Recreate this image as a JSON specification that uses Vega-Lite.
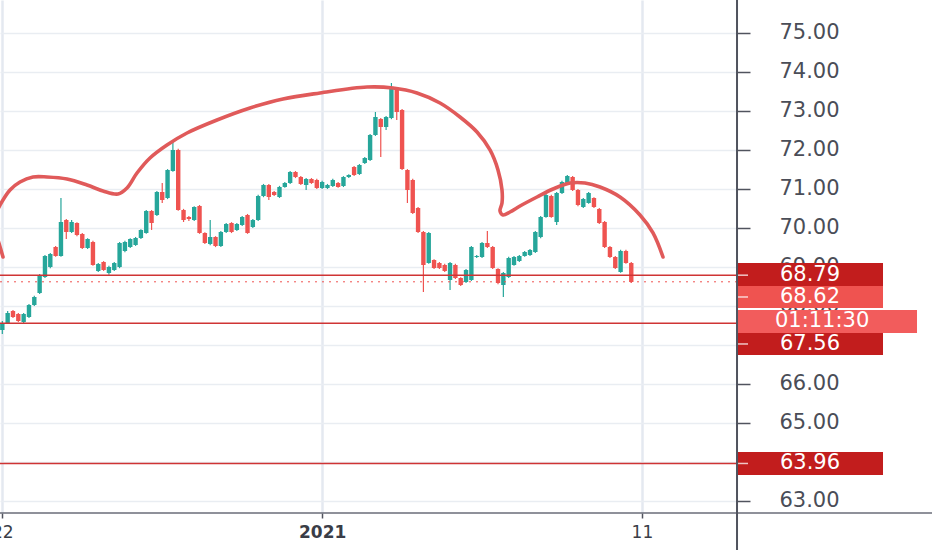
{
  "$schema": "https://vega.github.io/schema/vega-lite/v6.json",
  "width": 737,
  "height": 513,
  "autosize": "none",
  "padding": {"left": 0, "top": 0, "right": 195, "bottom": 37},
  "background": "#ffffff",
  "config": {
    "view": {"stroke": null},
    "font": "DejaVu Sans",
    "scale": {"continuousPadding": 0}
  },
  "datasets": {
    "candles": [
      {"i":1,"o":67.384,"h":67.615,"l":67.282,"c":67.564},
      {"i":2,"o":67.564,"h":67.872,"l":67.54,"c":67.821},
      {"i":3,"o":67.872,"h":67.9,"l":67.69,"c":67.718},
      {"i":4,"o":67.795,"h":67.82,"l":67.59,"c":67.615},
      {"i":5,"o":67.59,"h":67.82,"l":67.54,"c":67.795},
      {"i":6,"o":67.718,"h":68.05,"l":67.69,"c":68.025},
      {"i":7,"o":68.025,"h":68.26,"l":68.0,"c":68.231},
      {"i":8,"o":68.333,"h":68.82,"l":68.31,"c":68.795},
      {"i":9,"o":68.744,"h":69.31,"l":68.72,"c":69.282},
      {"i":10,"o":69.0,"h":69.36,"l":68.97,"c":69.333},
      {"i":11,"o":69.513,"h":69.54,"l":69.26,"c":69.282},
      {"i":12,"o":69.282,"h":70.769,"l":69.26,"c":70.154},
      {"i":13,"o":70.205,"h":70.23,"l":69.718,"c":69.897},
      {"i":14,"o":69.897,"h":70.205,"l":69.87,"c":70.154},
      {"i":15,"o":70.128,"h":70.15,"l":69.79,"c":69.82},
      {"i":16,"o":69.846,"h":69.87,"l":69.46,"c":69.487},
      {"i":17,"o":69.487,"h":69.74,"l":69.46,"c":69.718},
      {"i":18,"o":69.641,"h":69.67,"l":69.03,"c":69.051},
      {"i":19,"o":68.897,"h":69.1,"l":68.87,"c":69.077},
      {"i":20,"o":69.128,"h":69.15,"l":68.9,"c":68.923},
      {"i":21,"o":68.846,"h":69.03,"l":68.8,"c":69.0},
      {"i":22,"o":68.923,"h":69.13,"l":68.9,"c":69.102},
      {"i":23,"o":69.0,"h":69.64,"l":68.97,"c":69.615},
      {"i":24,"o":69.41,"h":69.67,"l":69.38,"c":69.641},
      {"i":25,"o":69.513,"h":69.74,"l":69.49,"c":69.718},
      {"i":26,"o":69.564,"h":69.77,"l":69.54,"c":69.743},
      {"i":27,"o":69.743,"h":69.97,"l":69.72,"c":69.949},
      {"i":28,"o":69.872,"h":70.46,"l":69.85,"c":70.436},
      {"i":29,"o":70.436,"h":70.46,"l":69.95,"c":70.128},
      {"i":30,"o":70.333,"h":70.95,"l":70.31,"c":70.923},
      {"i":31,"o":70.923,"h":71.154,"l":70.641,"c":70.718},
      {"i":32,"o":70.769,"h":71.51,"l":70.74,"c":71.487},
      {"i":33,"o":71.462,"h":72.205,"l":71.44,"c":72.0},
      {"i":34,"o":72.0,"h":72.03,"l":70.44,"c":70.461},
      {"i":35,"o":70.461,"h":70.49,"l":70.154,"c":70.205},
      {"i":36,"o":70.282,"h":70.31,"l":70.18,"c":70.231},
      {"i":37,"o":70.205,"h":70.56,"l":70.18,"c":70.538},
      {"i":38,"o":70.564,"h":70.59,"l":69.85,"c":69.872},
      {"i":39,"o":69.872,"h":69.89,"l":69.59,"c":69.615},
      {"i":40,"o":69.59,"h":70.205,"l":69.56,"c":69.769},
      {"i":41,"o":69.769,"h":69.79,"l":69.51,"c":69.538},
      {"i":42,"o":69.538,"h":69.92,"l":69.51,"c":69.897},
      {"i":43,"o":69.897,"h":70.13,"l":69.87,"c":70.102},
      {"i":44,"o":70.128,"h":70.15,"l":69.87,"c":69.897},
      {"i":45,"o":69.949,"h":70.13,"l":69.92,"c":70.102},
      {"i":46,"o":70.077,"h":70.31,"l":70.05,"c":70.282},
      {"i":47,"o":70.333,"h":70.36,"l":69.85,"c":69.872},
      {"i":48,"o":70.026,"h":70.23,"l":70.0,"c":70.205},
      {"i":49,"o":70.205,"h":70.85,"l":70.18,"c":70.82},
      {"i":50,"o":70.82,"h":71.13,"l":70.79,"c":71.102},
      {"i":51,"o":71.102,"h":71.13,"l":70.718,"c":70.795},
      {"i":52,"o":70.923,"h":70.95,"l":70.82,"c":70.846},
      {"i":53,"o":70.795,"h":71.08,"l":70.77,"c":71.051},
      {"i":54,"o":71.051,"h":71.18,"l":71.03,"c":71.154},
      {"i":55,"o":71.154,"h":71.46,"l":71.13,"c":71.436},
      {"i":56,"o":71.436,"h":71.46,"l":71.28,"c":71.308},
      {"i":57,"o":71.308,"h":71.33,"l":71.1,"c":71.128},
      {"i":58,"o":71.102,"h":71.28,"l":70.974,"c":71.256},
      {"i":59,"o":71.256,"h":71.28,"l":71.13,"c":71.154},
      {"i":60,"o":71.231,"h":71.26,"l":71.0,"c":71.026},
      {"i":61,"o":71.026,"h":71.21,"l":71.0,"c":71.179},
      {"i":62,"o":71.026,"h":71.13,"l":71.0,"c":71.102},
      {"i":63,"o":71.077,"h":71.26,"l":71.05,"c":71.231},
      {"i":64,"o":71.154,"h":71.18,"l":71.03,"c":71.051},
      {"i":65,"o":71.077,"h":71.33,"l":71.05,"c":71.308},
      {"i":66,"o":71.308,"h":71.38,"l":71.28,"c":71.359},
      {"i":67,"o":71.564,"h":71.59,"l":71.33,"c":71.359},
      {"i":68,"o":71.384,"h":71.64,"l":71.36,"c":71.615},
      {"i":69,"o":71.667,"h":71.82,"l":71.64,"c":71.795},
      {"i":70,"o":71.743,"h":72.41,"l":71.72,"c":72.384},
      {"i":71,"o":72.384,"h":72.974,"l":72.36,"c":72.846},
      {"i":72,"o":72.795,"h":72.82,"l":71.82,"c":72.59},
      {"i":73,"o":72.59,"h":72.87,"l":72.51,"c":72.846},
      {"i":74,"o":72.82,"h":73.718,"l":72.79,"c":73.59},
      {"i":75,"o":73.564,"h":73.59,"l":72.769,"c":72.974},
      {"i":76,"o":73.026,"h":73.05,"l":71.49,"c":71.513},
      {"i":77,"o":71.487,"h":71.51,"l":70.641,"c":70.974},
      {"i":78,"o":71.231,"h":71.26,"l":70.36,"c":70.384},
      {"i":79,"o":70.513,"h":70.54,"l":69.87,"c":69.897},
      {"i":80,"o":69.897,"h":69.92,"l":68.359,"c":69.051},
      {"i":81,"o":69.102,"h":69.9,"l":69.08,"c":69.872},
      {"i":82,"o":69.179,"h":69.2,"l":68.95,"c":68.974},
      {"i":83,"o":69.102,"h":69.13,"l":68.95,"c":68.974},
      {"i":84,"o":69.051,"h":69.08,"l":68.87,"c":68.897},
      {"i":85,"o":68.667,"h":69.13,"l":68.41,"c":69.102},
      {"i":86,"o":69.051,"h":69.08,"l":68.69,"c":68.718},
      {"i":87,"o":68.718,"h":68.74,"l":68.51,"c":68.538},
      {"i":88,"o":68.615,"h":68.95,"l":68.59,"c":68.923},
      {"i":89,"o":68.667,"h":69.54,"l":68.64,"c":69.513},
      {"i":90,"o":69.256,"h":69.31,"l":69.23,"c":69.282},
      {"i":91,"o":69.256,"h":69.64,"l":69.23,"c":69.615},
      {"i":92,"o":69.615,"h":69.923,"l":69.49,"c":69.513},
      {"i":93,"o":69.513,"h":69.54,"l":68.95,"c":68.974},
      {"i":94,"o":68.949,"h":68.97,"l":68.56,"c":68.59},
      {"i":95,"o":68.538,"h":68.87,"l":68.231,"c":68.846},
      {"i":96,"o":68.744,"h":69.26,"l":68.72,"c":69.231},
      {"i":97,"o":69.051,"h":69.28,"l":69.03,"c":69.256},
      {"i":98,"o":69.154,"h":69.31,"l":69.13,"c":69.282},
      {"i":99,"o":69.282,"h":69.41,"l":69.26,"c":69.384},
      {"i":100,"o":69.308,"h":69.46,"l":69.28,"c":69.436},
      {"i":101,"o":69.384,"h":69.92,"l":69.36,"c":69.897},
      {"i":102,"o":69.769,"h":70.31,"l":69.74,"c":70.282},
      {"i":103,"o":70.282,"h":70.95,"l":70.26,"c":70.846},
      {"i":104,"o":70.82,"h":70.85,"l":70.26,"c":70.282},
      {"i":105,"o":70.154,"h":70.92,"l":70.077,"c":70.897},
      {"i":106,"o":70.897,"h":71.21,"l":70.87,"c":71.179},
      {"i":107,"o":71.154,"h":71.36,"l":71.13,"c":71.333},
      {"i":108,"o":71.308,"h":71.33,"l":70.95,"c":70.974},
      {"i":109,"o":70.974,"h":71.0,"l":70.56,"c":70.59},
      {"i":110,"o":70.538,"h":70.77,"l":70.51,"c":70.744},
      {"i":111,"o":70.641,"h":70.92,"l":70.62,"c":70.897},
      {"i":112,"o":70.769,"h":70.79,"l":70.51,"c":70.538},
      {"i":113,"o":70.487,"h":70.51,"l":70.1,"c":70.128},
      {"i":114,"o":70.154,"h":70.18,"l":69.49,"c":69.513},
      {"i":115,"o":69.513,"h":69.54,"l":69.23,"c":69.256},
      {"i":116,"o":69.256,"h":69.28,"l":68.95,"c":68.974},
      {"i":117,"o":68.872,"h":69.44,"l":68.85,"c":69.41},
      {"i":118,"o":69.41,"h":69.44,"l":69.08,"c":69.102},
      {"i":119,"o":69.102,"h":69.13,"l":68.59,"c":68.615}
    ],
    "curve": [
      {"seg":"left","k":0,"i":0.188,"p":69.692},
      {"seg":"left","k":1,"i":0.75,"p":69.436},
      {"seg":"left","k":2,"i":1.126,"p":69.256},
      {"seg":"main","k":0,"i":0.188,"p":70.487},
      {"seg":"main","k":1,"i":0.563,"p":70.59},
      {"seg":"main","k":2,"i":2.439,"p":70.974},
      {"seg":"main","k":3,"i":4.315,"p":71.179},
      {"seg":"main","k":4,"i":6.754,"p":71.308},
      {"seg":"main","k":5,"i":9.381,"p":71.308},
      {"seg":"main","k":6,"i":13.133,"p":71.256},
      {"seg":"main","k":7,"i":16.886,"p":71.102},
      {"seg":"main","k":8,"i":19.887,"p":70.949},
      {"seg":"main","k":9,"i":22.702,"p":70.872},
      {"seg":"main","k":10,"i":24.39,"p":71.026},
      {"seg":"main","k":11,"i":26.266,"p":71.41},
      {"seg":"main","k":12,"i":28.705,"p":71.795},
      {"seg":"main","k":13,"i":31.895,"p":72.128},
      {"seg":"main","k":14,"i":35.647,"p":72.436},
      {"seg":"main","k":15,"i":41.276,"p":72.769},
      {"seg":"main","k":16,"i":47.467,"p":73.077},
      {"seg":"main","k":17,"i":53.659,"p":73.308},
      {"seg":"main","k":18,"i":60.6,"p":73.462},
      {"seg":"main","k":19,"i":69.418,"p":73.615},
      {"seg":"main","k":20,"i":74.296,"p":73.59},
      {"seg":"main","k":21,"i":78.799,"p":73.462},
      {"seg":"main","k":22,"i":83.114,"p":73.205},
      {"seg":"main","k":23,"i":86.867,"p":72.846},
      {"seg":"main","k":24,"i":90.056,"p":72.461},
      {"seg":"main","k":25,"i":92.495,"p":72.0},
      {"seg":"main","k":26,"i":93.996,"p":71.487},
      {"seg":"main","k":27,"i":94.747,"p":70.974},
      {"seg":"main","k":28,"i":94.747,"p":70.641},
      {"seg":"main","k":29,"i":94.371,"p":70.436},
      {"seg":"main","k":30,"i":94.934,"p":70.333},
      {"seg":"main","k":31,"i":96.248,"p":70.41},
      {"seg":"main","k":32,"i":98.124,"p":70.564},
      {"seg":"main","k":33,"i":101.313,"p":70.795},
      {"seg":"main","k":34,"i":104.315,"p":71.0},
      {"seg":"main","k":35,"i":107.505,"p":71.154},
      {"seg":"main","k":36,"i":110.319,"p":71.154},
      {"seg":"main","k":37,"i":113.133,"p":71.051},
      {"seg":"main","k":38,"i":116.886,"p":70.795},
      {"seg":"main","k":39,"i":120.638,"p":70.333},
      {"seg":"main","k":40,"i":123.077,"p":69.872},
      {"seg":"main","k":41,"i":124.953,"p":69.256}
    ],
    "levels": [
      {"p": 68.79},
      {"p": 67.56},
      {"p": 63.96}
    ],
    "last": [
      {"p": 68.62}
    ],
    "boxes": [
      {"label":"68.79","kind":"level","top":69.102,"bot":68.513,"mid":68.79},
      {"label":"68.62","kind":"last","top":68.513,"bot":67.949,"mid":68.231},
      {"label":"67.56","kind":"level","top":67.308,"bot":66.744,"mid":67.026},
      {"label":"63.96","kind":"level","top":64.256,"bot":63.667,"mid":63.962}
    ],
    "timer": [
      {"label":"01:11:30","kind":"timer","top":67.897,"bot":67.308,"mid":67.603}
    ]
  },
  "layer": [
    {
      "data": {"name": "candles"},
      "mark": {"type": "rule", "strokeWidth": 1.2},
      "encoding": {
        "x": {
          "field": "i", "type": "quantitative", "title": null,
          "scale": {"domain": [0.563, 138.837], "nice": false, "zero": false, "padding": 0},
          "axis": {
            "values": [1, 61, 121],
            "labelExpr": "datum.value == 1 ? '22' : datum.value == 61 ? '2021' : '11'",
            "labelFlush": false,
            "labelOverlap": false,
            "grid": true,
            "gridColor": "#e4e9f0",
            "gridWidth": 2.5,
            "domain": false,
            "tickSize": 5,
            "tickColor": "#50535e",
            "tickWidth": 1.5,
            "labelFontSize": 17,
            "labelColor": "#3a3d47",
            "labelPadding": 6,
            "labelFontWeight": {"condition": {"test": "datum.value == 61", "value": "bold"}, "value": "normal"}
          }
        },
        "y": {
          "field": "l", "type": "quantitative", "title": null,
          "scale": {"domain": [62.692, 75.846], "nice": false, "zero": false},
          "axis": {
            "orient": "right",
            "values": [63, 64, 65, 66, 67, 68, 69, 70, 71, 72, 73, 74, 75],
            "format": ".2f",
            "labelExpr": "datum.value == 64 || datum.value == 67 ? '' : datum.label",
            "grid": true,
            "gridColor": "#e9edf2",
            "gridWidth": 1.5,
            "domain": false,
            "tickSize": 13,
            "tickColor": "#50535e",
            "tickWidth": 1.5,
            "labelFontSize": 21,
            "labelColor": "#4a4d57",
            "labelAlign": "center",
            "labelBaseline": "middle",
            "labelPadding": 59
          }
        },
        "y2": {"field": "h"},
        "color": {
          "condition": {"test": "datum.c >= datum.o", "value": "#26a69a"},
          "value": "#ef5350"
        }
      }
    },
    {
      "data": {"name": "candles"},
      "mark": {"type": "bar", "size": 4.4},
      "encoding": {
        "x": {"field": "i", "type": "quantitative", "title": null, "scale": {"domain": [0.563, 138.837], "nice": false, "zero": false, "padding": 0}},
        "y": {"field": "o", "type": "quantitative", "title": null, "scale": {"domain": [62.692, 75.846], "nice": false, "zero": false}},
        "y2": {"field": "c"},
        "color": {
          "condition": {"test": "datum.c >= datum.o", "value": "#26a69a"},
          "value": "#ef5350"
        }
      }
    },
    {
      "data": {"name": "levels"},
      "mark": {"type": "rule", "color": "#cf3434", "strokeWidth": 1.5},
      "encoding": {
        "y": {"field": "p", "type": "quantitative", "title": null, "scale": {"domain": [62.692, 75.846], "nice": false, "zero": false}}
      }
    },
    {
      "data": {"name": "last"},
      "mark": {"type": "rule", "color": "#ef5350", "strokeWidth": 1, "strokeDash": [2, 5]},
      "encoding": {
        "y": {"field": "p", "type": "quantitative", "title": null, "scale": {"domain": [62.692, 75.846], "nice": false, "zero": false}}
      }
    },
    {
      "data": {"name": "curve"},
      "mark": {"type": "line", "interpolate": "catmull-rom", "color": "#e05a5a", "strokeWidth": 3.6, "strokeCap": "round", "strokeJoin": "round"},
      "encoding": {
        "x": {"field": "i", "type": "quantitative", "title": null, "scale": {"domain": [0.563, 138.837], "nice": false, "zero": false, "padding": 0}},
        "y": {"field": "p", "type": "quantitative", "title": null, "scale": {"domain": [62.692, 75.846], "nice": false, "zero": false}},
        "order": {"field": "k"},
        "detail": {"field": "seg"}
      }
    },
    {
      "data": {"name": "boxes"},
      "mark": {"type": "rect"},
      "encoding": {
        "x": {"datum": 138.84, "type": "quantitative"},
        "x2": {"datum": 166.23},
        "y": {"field": "top", "type": "quantitative", "title": null},
        "y2": {"field": "bot"},
        "color": {
          "field": "kind", "type": "nominal", "legend": null,
          "scale": {"domain": ["level", "last", "timer"], "range": ["#c21d1d", "#ef5350", "#f25c5c"]}
        }
      }
    },
    {
      "data": {"name": "timer"},
      "mark": {"type": "rect"},
      "encoding": {
        "x": {"datum": 139.02, "type": "quantitative"},
        "x2": {"datum": 172.61},
        "y": {"field": "top", "type": "quantitative", "title": null},
        "y2": {"field": "bot"},
        "color": {
          "field": "kind", "type": "nominal", "legend": null,
          "scale": {"domain": ["level", "last", "timer"], "range": ["#c21d1d", "#ef5350", "#f25c5c"]}
        }
      }
    },
    {
      "data": {"name": "boxes"},
      "mark": {"type": "rule", "color": "#ffffff", "strokeWidth": 1.5, "opacity": 0.75},
      "encoding": {
        "x": {"datum": 138.84, "type": "quantitative"},
        "x2": {"datum": 140.9},
        "y": {"field": "mid", "type": "quantitative", "title": null}
      }
    },
    {
      "data": {"name": "boxes"},
      "mark": {"type": "text", "color": "#ffffff", "fontSize": 21, "align": "center", "baseline": "middle"},
      "encoding": {
        "x": {"datum": 152.53, "type": "quantitative"},
        "y": {"field": "mid", "type": "quantitative", "title": null},
        "text": {"field": "label"}
      }
    },
    {
      "data": {"name": "timer"},
      "mark": {"type": "text", "color": "#ffffff", "fontSize": 21, "align": "center", "baseline": "middle"},
      "encoding": {
        "x": {"datum": 154.8, "type": "quantitative"},
        "y": {"field": "mid", "type": "quantitative", "title": null},
        "text": {"field": "label"}
      }
    },
    {
      "data": {"values": [{}]},
      "mark": {"type": "rule", "color": "#6a6d78", "strokeWidth": 1.5},
      "encoding": {
        "x": {"datum": 0.3, "type": "quantitative"},
        "x2": {"datum": 176},
        "y": {"datum": 62.692, "type": "quantitative"}
      }
    },
    {
      "data": {"values": [{}]},
      "mark": {"type": "rule", "color": "#50535e", "strokeWidth": 2},
      "encoding": {
        "x": {"datum": 138.84, "type": "quantitative"},
        "y": {"datum": 75.9, "type": "quantitative"},
        "y2": {"datum": 61.7}
      }
    }
  ]
}
